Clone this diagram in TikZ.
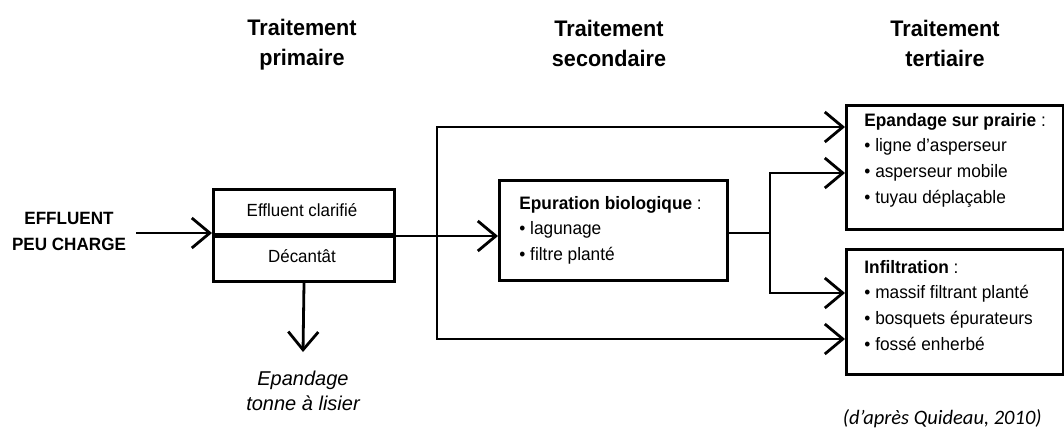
\documentclass[tikz,border=0pt]{standalone}
\usepackage{fontspec}
\setmainfont{Liberation Sans}[FakeStretch=0.96]
\newfontfamily\itfont{Liberation Sans}
\newfontfamily\citefont{Carlito}
\usetikzlibrary{arrows.meta}
\newcommand\stk[1]{\vtop{\halign{\hfil##\hfil\cr#1\crcr}}}
\newcommand\lft[1]{\vtop{\halign{##\hfil\cr#1\crcr}}}
\begin{document}
\begin{tikzpicture}[x=1pt,y=-1pt,
  line width=2.8pt,
  arr/.style={-{Straight Barb[length=18pt,width=30pt]}},
  box/.style={draw,line width=3pt,inner sep=0pt},
  head/.style={font=\fontsize{22.5}{30}\selectfont\bfseries,anchor=base,inner sep=0pt},
  txt/.style={font=\fontsize{18}{25.7}\selectfont,inner sep=0pt},
  itx/.style={font=\itfont\fontsize{20}{25}\selectfont\itshape,inner sep=0pt,anchor=base},
]
\useasboundingbox (0,0) rectangle (1064,437);

% headings
\node[head] (h1) at (302,35) {\stk{Traitement\cr primaire}};
\node[head] (h2) at (609,36) {\stk{Traitement\cr secondaire}};
\node[head] (h3) at (945,36) {\stk{Traitement\cr tertiaire}};

% input
\node[txt,font=\fontsize{17.8}{26}\selectfont\bfseries,anchor=base] (eff) at (69,224) {\stk{EFFLUENT\cr PEU CHARGE}};
\coordinate (in) at (136,233);

% primary box
\node[box,minimum width=181pt,minimum height=45pt,anchor=north west] (clar) at (212,188) {};
\node[txt,font=\fontsize{17.6}{25}\selectfont,anchor=base] (clart) at (302,216) {Effluent clarifié};
\node[box,minimum width=181pt,minimum height=47pt,anchor=north west] (dec) at (212,233) {};
\node[txt,font=\fontsize{17.6}{25}\selectfont,anchor=base] (dect) at (302,262) {Décantât};
\draw[line width=3.8pt] (clar.south west) -- (clar.south east);

% epandage tonne
\node[itx] (ton) at (303,385) {\stk{Epandage\cr tonne à lisier}};
\coordinate (tonin) at (303,352);
\draw[arr] (dec.south) -- (tonin);

% secondary
\node[box,minimum width=228pt,minimum height=100pt,anchor=north west] (epu) at (498,179) {};
\node[txt,anchor=base west] (eput) at (518,209) {\lft{\textbf{Epuration biologique} :\cr • lagunage\cr • filtre planté}};

% tertiary boxes
\node[box,minimum width=217pt,minimum height=124pt,anchor=north west] (pra) at (845,104) {};
\node[txt,anchor=base west] (prat) at (863,126) {\lft{\textbf{Epandage sur prairie} :\cr • ligne d’asperseur\cr • asperseur mobile\cr • tuyau déplaçable}};
\node[box,minimum width=217pt,minimum height=125pt,anchor=north west] (inf) at (845,248) {};
\node[txt,anchor=base west] (inft) at (863,273) {\lft{\textbf{Infiltration} :\cr • massif filtrant planté\cr • bosquets épurateurs\cr • fossé enherbé}};

% coordinates
\coordinate (j1) at (437,233);
\coordinate (j2) at (770,233);
\coordinate (t1) at (845,127);
\coordinate (t2) at (845,173);
\coordinate (t3) at (845,293);
\coordinate (t4) at (845,339);

% connectors
\draw[arr] (in) -- (in -| clar.west);
\draw[arr] (clar.south east) -- (clar.south east -| epu.west);
\draw[arr] (j1) |- (t1);
\draw[arr] (j1) |- (t4);
\draw (epu.east |- j2) -- (j2);
\draw[arr] (j2) |- (t2);
\draw[arr] (j2) |- (t3);

% citation
\node[font=\citefont\fontsize{20.5}{24}\selectfont\itshape,anchor=base east,inner sep=0pt] (cit) at (1043,424) {(d’après Quideau, 2010)};
\end{tikzpicture}
\end{document}
